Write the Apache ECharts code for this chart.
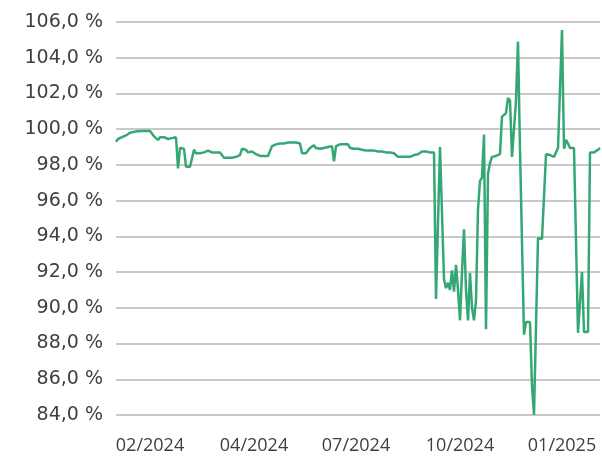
<!DOCTYPE html>
<html><head><meta charset="utf-8">
<script src="https://cdn.jsdelivr.net/npm/echarts@6/dist/echarts.min.js"></script>
<style>html,body{margin:0;padding:0;background:#fff}#c{width:602px;height:460px}</style>
</head><body><div id="c"></div>
<script>
// Ratio values (%), one per observation
const values = [
99.3,99.45,99.5,99.55,99.6,99.65,99.75,99.8,99.8,99.85,
99.85,99.88,99.88,99.9,99.88,99.9,99.88,99.9,99.85,99.6,
99.5,99.4,99.55,99.5,99.55,99.5,99.45,99.55,99.5,99.55,
99.55,97.8,98.95,98.95,98.9,97.9,97.9,97.9,97.95,98.85,
98.65,98.65,98.65,98.65,98.7,98.7,98.8,98.7,98.7,98.7,
98.7,98.7,98.7,98.7,98.4,98.4,98.4,98.4,98.4,98.42,
98.45,98.5,98.55,98.9,98.9,98.85,98.7,98.75,98.75,98.7,
98.6,98.5,98.5,98.5,98.5,98.5,98.5,98.55,99.05,99.1,
99.15,99.15,99.2,99.2,99.2,99.22,99.25,99.25,99.25,99.25,
99.25,99.22,99.2,98.65,98.6,98.65,98.8,98.95,99.05,99.1,
98.95,98.85,98.9,98.95,98.95,99.0,99.0,99.05,99.05,98.2,
99.05,99.15,99.15,99.15,99.15,99.15,99.15,98.95,98.95,98.9,
98.9,98.9,98.85,98.85,98.85,98.8,98.85,98.8,98.8,98.8,
98.75,98.75,98.75,98.75,98.7,98.7,98.7,98.7,98.7,98.65,
98.65,98.45,98.45,98.45,98.45,98.45,98.45,98.45,98.5,98.55,
98.55,98.6,98.7,98.75,98.75,98.75,98.7,98.7,98.7,98.7,
90.5,90.5,99.0,99.0,91.6,91.1,91.4,91.0,92.1,90.9,
92.4,91.0,89.3,92.0,94.4,91.0,89.3,91.95,90.0,89.3,
90.4,95.5,97.1,97.3,99.7,88.8,97.5,98.1,98.45,98.5,
98.5,98.55,98.6,100.7,100.8,100.9,101.75,101.6,98.45,98.45,
101.6,104.9,98.85,98.95,88.5,89.2,89.2,89.2,85.6,84.0,
84.0,93.9,93.9,93.85,93.8,98.6,98.7,98.55,98.5,98.45,
98.45,98.95,98.95,105.55,98.9,99.4,99.2,98.95,98.95,98.95,
98.9,88.6,88.6,92.0,88.65,88.65,88.65,98.7,98.75,98.7,
98.75,98.85,98.95
];
// Observation categories (sequence positions)
const categories = values.map((_, i) => String(i));
// X tick labels and the observation they sit under
const tickLabels = ['02/2024','04/2024','07/2024','10/2024','01/2025'];
const tickIndex = [17, 69, 120, 172, 223];

const chart = echarts.init(document.getElementById('c'), null, {renderer:'canvas'});
chart.setOption({
  animation:false,
  grid:{left:116, right:2, top:22, bottom:45, containLabel:false},
  xAxis:{
    type:'category', data:categories, boundaryGap:false,
    axisLine:{show:false}, axisTick:{show:false},
    axisLabel:{
      interval:(idx)=>tickIndex.includes(idx),
      formatter:(v)=>{const k=tickIndex.indexOf(Number(v));return k>=0?tickLabels[k]:'';},
      color:'#404040', fontSize:18, fontFamily:'"Open Sans", sans-serif', margin:22
    },
    splitLine:{show:false}
  },
  yAxis:{
    type:'value', min:84, max:106, interval:2,
    axisLine:{show:false}, axisTick:{show:false},
    axisLabel:{
      formatter:(v)=>v.toFixed(1).replace('.',',')+' %',
      color:'#404040', fontSize:19, fontFamily:'"DejaVu Sans", sans-serif', margin:13
    },
    splitLine:{lineStyle:{color:'#c9c9c9', width:2}}
  },
  series:[{
    type:'line', data:values, showSymbol:false, symbol:'none',
    lineStyle:{color:'#34a874', width:2.5}, itemStyle:{color:'#34a874'}
  }]
});
</script></body></html>
